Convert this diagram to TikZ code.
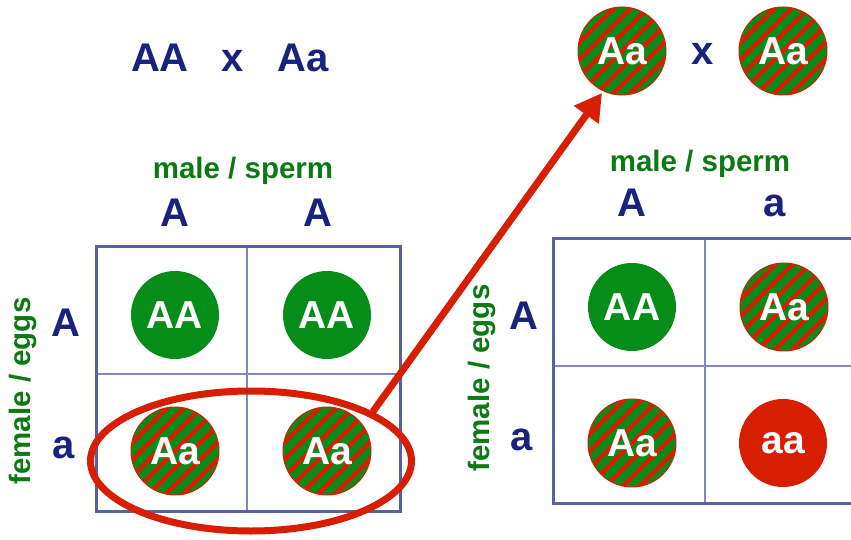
\documentclass[tikz,border=0pt]{standalone}
\usepackage{fontspec}
\setmainfont{Liberation Sans}
\usetikzlibrary{shapes.geometric,arrows.meta}
\definecolor{navy}{RGB}{25,35,125}
\definecolor{gridout}{RGB}{88,96,165}
\definecolor{gridin}{RGB}{128,136,195}
\definecolor{redc}{RGB}{215,30,0}
\definecolor{greenc}{RGB}{5,140,25}
\definecolor{greent}{RGB}{12,122,20}
\tikzset{
  bigtxt/.style={text=navy,font=\fontsize{40}{40}\selectfont\bfseries,inner sep=0pt,anchor=base},
  lbl/.style={text=greent,font=\fontsize{29.5}{29.5}\selectfont\bfseries,inner sep=0pt},
  ball/.style={circle,minimum size=88pt,inner sep=0pt,text=white,font=\fontsize{39}{39}\selectfont\bfseries},
  solidg/.style={ball,fill=greenc},
  solidr/.style={ball,fill=redc},
  striped/.style={ball,fill=greenc,draw=redc,line width=1pt,
    path picture={
      \foreach \k in {-136,-119,...,136}{
        \draw[redc,line width=4.4pt] ([shift={(\k-60,60)}]path picture bounding box.center) -- ++(120,-120);
      }
    }},
  outer/.style={draw=gridout,line width=3pt},
  inner/.style={draw=gridin,line width=1.6pt},
}
\begin{document}
\begin{tikzpicture}[x=1pt,y=-1pt]
\useasboundingbox (0,0) rectangle (851,540);
\fill[white] (0,0) rectangle (851,540);

% top-left cross
\node[bigtxt] (p1) at (160,72) {AA};
\node[bigtxt] (px) at (233,72) {x};
\node[bigtxt] (p2) at (303,72) {Aa};

% left square
\draw[inner] (247,246) -- (247,511);
\draw[inner] (96,374) -- (400,374);
\draw[outer] (96,246) rectangle (400,511);
\node[lbl,anchor=base] (lm) at (243,179) {male / sperm};
\node[bigtxt] (lc1) at (175,226) {A};
\node[bigtxt] (lc2) at (318,226) {A};
\node[lbl,rotate=90] (lf) at (23,391) {female / eggs};
\node[bigtxt] (lr1) at (66,336) {A};
\node[bigtxt] (lr2) at (64,458) {a};
\node[solidg] (l11) at (175,315) {AA};
\node[solidg] (l12) at (327,315) {AA};
\node[striped] (l21) at (175,451) {Aa};
\node[striped] (l22) at (327,451) {Aa};

% right square
\draw[inner] (705,238) -- (705,503);
\draw[inner] (553,366) -- (851,366);
\draw[outer] (860,238) -- (553,238) -- (553,503) -- (860,503);
\node[lbl,anchor=base] (rm) at (700,172) {male / sperm};
\node[bigtxt] (rc1) at (632,217) {A};
\node[bigtxt] (rc2) at (775,217) {a};
\node[lbl,rotate=90] (rf) at (482,378) {female / eggs};
\node[bigtxt] (rr1) at (524,329) {A};
\node[bigtxt] (rr2) at (522,450) {a};
\node[solidg] (r11) at (632,307) {AA};
\node[striped] (r12) at (784,307) {Aa};
\node[striped] (r21) at (632,443) {Aa};
\node[solidr] (r22) at (783,443) {aa};

% top-right cross
\node[striped] (t1) at (622,51) {Aa};
\node[bigtxt] (tx) at (703,65) {x};
\node[striped] (t2) at (783,51) {Aa};

% highlight ellipse and arrow
\node[ellipse,draw=redc,line width=7pt,minimum width=321pt,minimum height=140pt,inner sep=0pt] (ell) at (251,461) {};
\draw[redc,line width=7pt,-{Triangle[length=27pt,width=29pt]},shorten >=2pt] (ell.22) -- (t1.245);
\end{tikzpicture}
\end{document}
